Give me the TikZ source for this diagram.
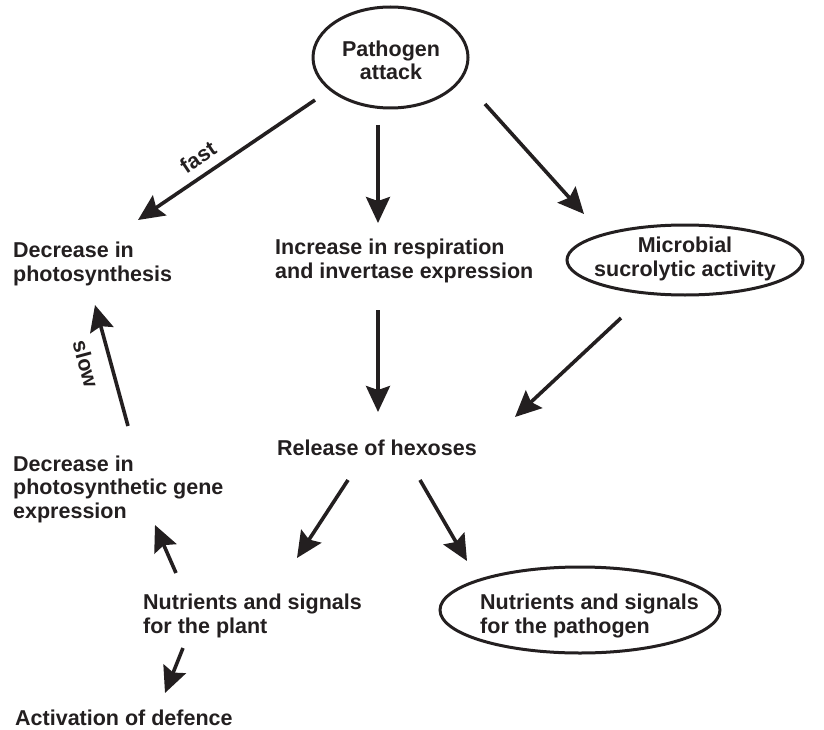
\documentclass[tikz,border=0pt]{standalone}
\usepackage{fontspec}
\setmainfont{Liberation Sans}
\usetikzlibrary{arrows.meta,shapes.geometric}
\definecolor{ink}{HTML}{231F20}
\begin{document}
\begin{tikzpicture}[x=1pt,y=-1pt,
  every node/.style={font=\bfseries\fontsize{21.5}{23.5}\selectfont, text=ink, inner sep=0pt},
  lbl/.style={anchor=base west, align=left},
  clbl/.style={anchor=base, align=center},
  oval/.style={draw=ink, line width=3pt, ellipse, minimum width=#1},
  arr/.style={draw=ink, line width=3.6pt, -{Stealth[length=26pt,width=24pt,inset=4pt]}}]
\useasboundingbox (0,0) rectangle (824,730);
% ellipses
\node[oval=155pt, minimum height=101pt] (paE) at (390.5,57.5) {};
\node[oval=236pt, minimum height=70pt] (miE) at (685,260) {};
\node[oval=280pt, minimum height=86pt] (ptE) at (580,610) {};
% texts (anchored at the baseline of the last line)
\node[clbl] (pa) at (391,80) {Pathogen\\attack};
\node[lbl] (photo) at (13,281) {Decrease in\\photosynthesis};
\node[lbl] (resp) at (275,278) {Increase in respiration\\and invertase expression};
\node[clbl] (micro) at (685,276) {Microbial\\sucrolytic activity};
\node[lbl] (hex) at (277,455) {Release of hexoses};
\node[lbl] (gene) at (13,518) {Decrease in\\photosynthetic gene\\expression};
\node[lbl] (plant) at (143,633) {Nutrients and signals\\for the plant};
\node[lbl] (pathn) at (480,633) {Nutrients and signals\\for the pathogen};
\node[lbl] (def) at (15,725) {Activation of defence};
% arrow end points
\coordinate (a1s) at (315,100); \coordinate (a1e) at (138,220);
\coordinate (a2s) at (378,125); \coordinate (a2e) at (378,223);
\coordinate (a3s) at (485,104); \coordinate (a3e) at (584,214);
\coordinate (a4s) at (378,310); \coordinate (a4e) at (378,412);
\coordinate (a5s) at (621,318); \coordinate (a5e) at (515,417);
\coordinate (a6s) at (128,426); \coordinate (a6e) at (95,305);
\coordinate (a7s) at (348,480); \coordinate (a7e) at (297,558);
\coordinate (a8s) at (420,480); \coordinate (a8e) at (467,561);
\coordinate (a9s) at (176,573); \coordinate (a9e) at (155,525);
\coordinate (a10s) at (183,648); \coordinate (a10e) at (165,693);
% arrows
\draw[arr] (a1s) -- (a1e);
\draw[arr] (a2s) -- (a2e);
\draw[arr] (a3s) -- (a3e);
\draw[arr] (a4s) -- (a4e);
\draw[arr] (a5s) -- (a5e);
\draw[arr] (a6s) -- (a6e);
\draw[arr] (a7s) -- (a7e);
\draw[arr] (a8s) -- (a8e);
\draw[arr] (a9s) -- (a9e);
\draw[arr] (a10s) -- (a10e);
% labels
\node[rotate=34] (fast) at (198,157) {fast};
\node[rotate=-75] (slow) at (86,364) {slow};
\end{tikzpicture}
\end{document}
